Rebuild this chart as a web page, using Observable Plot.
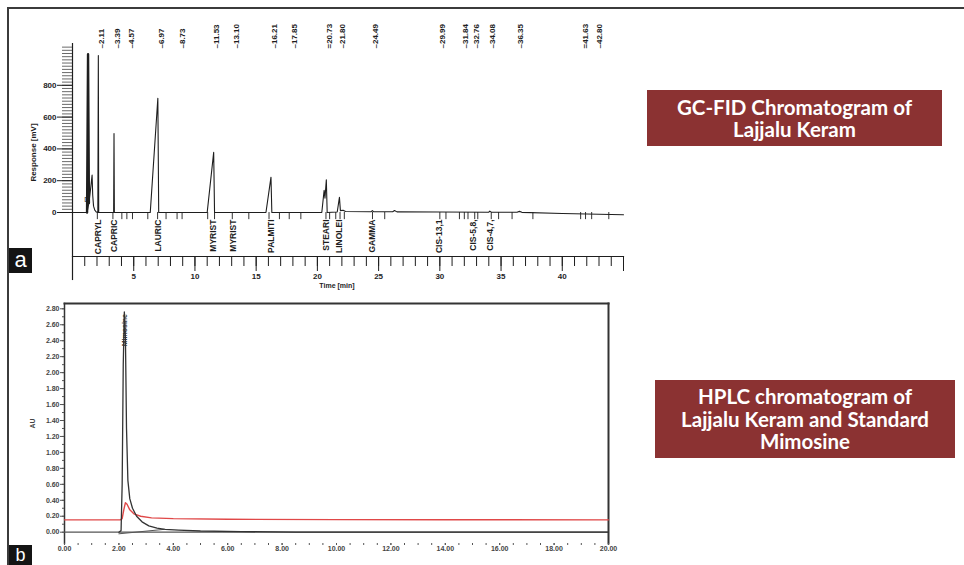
<!DOCTYPE html>
<html><head><meta charset="utf-8">
<script src="https://cdn.jsdelivr.net/npm/d3@7"></script>
<script src="https://cdn.jsdelivr.net/npm/@observablehq/plot@0.6"></script>
<style>
body{margin:0;background:#fff;}
#page{position:relative;width:964px;height:565px;overflow:hidden;background:#fff;font-family:"Liberation Sans",Arial,sans-serif;}
.bt{position:absolute;left:7px;top:7px;width:957px;height:2px;background:#3b3b3b;}
.bl{position:absolute;left:7px;top:7px;width:2px;height:558px;background:#3b3b3b;}
.panel{position:absolute;left:0;}
.panel svg{overflow:visible;}
.title{position:absolute;background:#8b3232;color:#fff;font-family:Lato,"Open Sans",sans-serif;font-weight:700;text-align:center;display:flex;flex-direction:column;justify-content:center;line-height:22.5px;font-size:20.5px;}
.tag{position:absolute;background:#141414;color:#fff;font-family:"Liberation Sans",Arial,sans-serif;font-size:22px;text-align:center;line-height:24px;}
</style></head>
<body>
<div id="page">
  <div class="bt"></div><div class="bl"></div>
  <div id="gc" class="panel" style="top:0"></div>
  <div id="hplc" class="panel" style="top:290px"></div>
  <div class="title" style="left:647px;top:90px;width:295px;height:56px;"><div>GC-FID Chromatogram of</div><div>Lajjalu Keram</div></div>
  <div class="title" style="left:655px;top:380px;width:300px;height:78px;"><div>HPLC chromatogram of</div><div>Lajjalu Keram and Standard</div><div>Mimosine</div></div>
  <div class="tag" style="left:9px;top:248px;width:23px;height:25px;">a</div>
  <div class="tag" style="left:9px;top:545px;width:23px;height:20px;font-size:18px;line-height:21px;">b</div>
</div>
<script>
// ---------- GC-FID data ----------
const gcTime = [0, 1.19, 1.34, 1.48, 1.60, 1.65, 1.72, 1.82, 1.95, 2.07, 2.11, 2.14, 3.36, 3.39, 3.42, 6.35, 6.97, 7.04, 11.0, 11.53, 11.60, 15.80, 16.21, 16.28, 20.36, 20.55, 20.62, 20.73, 20.80, 21.62, 21.80, 21.88, 22.1, 22.3, 24.40, 24.49, 24.58, 26.15, 26.30, 26.50, 30.0, 34.00, 34.08, 34.20, 36.30, 36.50, 36.70, 40.0, 45.0];
const gcResponse = [0, 0, 60, 150, 235, 110, 40, 15, 3, 0, 987, 0, 0, 497, 0, 0, 718, 0, 0, 378, 0, 0, 222, 0, 0, 140, 90, 205, 0, 3, 95, 12, 14, 6, 5, 12, 5, 5, 12, 4, 3, 2, 9, 2, 2, 7, 1, -6, -14];
const gcSolventTime = [1.19, 1.27, 1.34];
const gcSolventResponse = [0, 995, 60];
const gcRtTimes = [2.11, 3.39, 4.57, 6.97, 8.73, 11.53, 13.10, 16.21, 17.85, 20.73, 21.80, 24.49, 29.99, 31.84, 32.76, 34.08, 36.35, 41.63, 42.80];
const gcRtText = ["–2.11", "–3.39", "–4.57", "–6.97", "–8.73", "–11.53", "–13.10", "–16.21", "–17.85", "=20.73", "–21.80", "–24.49", "–29.99", "–31.84", "–32.76", "–34.08", "–36.35", "=41.63", "–42.80"];
const gcCompoundNames = ["CAPRYL", "CAPRIC", "LAURIC", "MYRIST", "MYRIST", "PALMITI", "STEARI", "LINOLEI", "GAMMA", "CIS-13,1", "CIS-5,8,", "CIS-4,7,"];
const gcCompoundTimes = [2.11, 3.39, 6.97, 11.53, 13.10, 16.21, 20.73, 21.80, 24.49, 29.99, 32.76, 34.08];
const gcEventTimes = [2.03, 3.30, 4.03, 4.44, 4.90, 6.15, 6.95, 7.64, 8.54, 8.95, 11.04, 11.60, 13.05, 14.40, 16.05, 16.90, 17.70, 18.65, 20.70, 21.00, 21.50, 21.85, 22.20, 24.50, 25.50, 30.00, 30.50, 31.60, 32.00, 32.30, 32.85, 33.10, 34.20, 34.80, 35.90, 37.60, 41.50, 41.90, 42.40, 43.80];
const gcTimeTicks = [5, 10, 15, 20, 25, 30, 35, 40, 45];
const gcTimeMinor = d3.range(1, 45, 1);
const gcRespTicks = [0, 200, 400, 600, 800];
const gcRespMinor = d3.range(0, 1041, 20);
const gcAxisSpan = [1063, -428];   // mV extent of the left axis line
const gcEventDepth = -45;          // mV depth of event marks

// ---------- HPLC data ----------
const hplcPeakTime = [2.00, 2.08, 2.12, 2.16, 2.20, 2.24, 2.28, 2.33, 2.40, 2.50, 2.65, 2.85, 3.10, 3.40, 3.70, 4.20, 5.00, 6.50, 8.50, 20.0];
const hplcPeakAU   = [0, 0.02, 0.6, 2.1, 2.76, 2.45, 1.3, 0.65, 0.42, 0.3, 0.2, 0.13, 0.08, 0.05, 0.035, 0.025, 0.015, 0.008, 0, 0];
const hplcStdTime = [0, 2.05, 2.12, 2.18, 2.24, 2.30, 2.40, 2.55, 2.80, 3.20, 4.00, 6.00, 10.0, 14.0, 20.0];
const hplcStdAU   = [0.155, 0.155, 0.17, 0.28, 0.37, 0.35, 0.28, 0.23, 0.2, 0.18, 0.17, 0.162, 0.158, 0.156, 0.155];
const hplcIntegTime = [2.0, 3.65];
const hplcIntegAU = [-0.02, 0.035];
const hplcXTicks = d3.range(0, 20.01, 2);
const hplcXMinor = d3.range(0, 20.01, 0.5);
const hplcYTicks = d3.range(0, 2.81, 0.2);
const hplcYMinor = d3.range(0, 2.81, 0.1);
const hplcPeakName = "Mimosine";

const zip = (xs, ys) => xs.map((x, i) => ({x, y: ys[i]}));
const ink = "#1e1e1e";

const gc = Plot.plot({
  width: 654, height: 292,
  marginLeft: 72, marginRight: 31, marginTop: 48, marginBottom: 36,
  style: {fontFamily: "'Liberation Sans', Arial, sans-serif", fontSize: "8px", color: ink, background: "transparent", overflow: "visible"},
  x: {domain: [0, 45]},
  y: {domain: [0, 1000], range: [212, 53]},
  marks: [
    Plot.ruleX([0], {y1: gcAxisSpan[0], y2: gcAxisSpan[1], stroke: ink, strokeWidth: 1.2}),
    Plot.frame({anchor: "bottom", stroke: ink, strokeWidth: 1.2}),
    Plot.axisY({ticks: gcRespMinor, tickSize: 10, tickFormat: () => "", label: null, stroke: "#444", strokeWidth: 0.8}),
    Plot.axisY({ticks: gcRespTicks, tickSize: 15, tickPadding: 1, fontSize: 8, fontWeight: "bold", label: "Response [mV]", labelArrow: "none", labelAnchor: "center", labelOffset: 42, stroke: ink}),
    Plot.axisX({ticks: gcTimeMinor, tickSize: 10, tickFormat: () => "", label: null, stroke: ink}),
    Plot.axisX({ticks: gcTimeTicks, tickSize: 15, tickPadding: 2, fontSize: 8, fontWeight: "bold", tickFormat: d => d % 45 === 0 ? "" : d, label: null, stroke: ink}),
    Plot.text(["Time [min]"], {x: 21.6, frameAnchor: "bottom", dy: 31, fontSize: 7, fontWeight: "bold"}),
    Plot.ruleX(gcEventTimes, {y1: 0, y2: gcEventDepth, stroke: "#333", strokeWidth: 1}),
    Plot.line(zip(gcTime, gcResponse), {x: "x", y: "y", stroke: ink, strokeWidth: 1.1}),
    Plot.line(zip(gcSolventTime, gcSolventResponse), {x: "x", y: "y", stroke: ink, strokeWidth: 2.4}),
    Plot.text([{x: 1.17, y: 82}], {x: "x", y: "y", text: () => "D", fontSize: 7}),
    Plot.text(gcRtTimes.map((t, i) => ({t, s: gcRtText[i]})), {x: "t", frameAnchor: "top", text: "s", rotate: -90, textAnchor: "start", fontSize: 8, fontWeight: "bold"}),
    Plot.text(gcCompoundTimes.map((t, i) => ({t, s: gcCompoundNames[i]})), {x: "t", y: 0, dy: 7, text: "s", rotate: -90, textAnchor: "end", fontSize: 8.5, fontWeight: "bold"})
  ]
});
document.getElementById("gc").appendChild(gc);

const hp = Plot.plot({
  width: 628, height: 275,
  marginLeft: 64, marginRight: 20, marginTop: 13, marginBottom: 22,
  style: {fontFamily: "'Liberation Sans', Arial, sans-serif", fontSize: "7px", color: "#444", background: "transparent", overflow: "visible"},
  x: {domain: [0, 20]},
  y: {domain: [0, 2.8], range: [241.7, 18.3]},
  marks: [
    Plot.frame({anchor: "top", stroke: "#333", strokeWidth: 2}),
    Plot.frame({anchor: "left", stroke: "#333", strokeWidth: 1.5}),
    Plot.frame({anchor: "right", stroke: "#333", strokeWidth: 2}),
    Plot.axisY({ticks: hplcYMinor, tickSize: 2, tickFormat: () => "", label: null, stroke: "#555"}),
    Plot.axisY({ticks: hplcYTicks, tickSize: 4, tickPadding: 1, tickFormat: d3.format(".2f"), fontSize: 7, fontWeight: "bold", label: "AU", labelArrow: "none", labelAnchor: "center", labelOffset: 34, stroke: "#555"}),
    Plot.axisX({ticks: hplcXMinor, tickSize: 2, tickFormat: () => "", label: null, stroke: "#555"}),
    Plot.axisX({ticks: hplcXTicks, tickSize: 2, tickPadding: 1, tickFormat: d3.format(".2f"), fontSize: 7, fontWeight: "bold", label: null, stroke: "#555"}),
    Plot.ruleY([0], {stroke: "#555", strokeWidth: 1.2}),
    Plot.line(zip(hplcStdTime, hplcStdAU), {x: "x", y: "y", stroke: "#e04848", strokeWidth: 1.4}),
    Plot.line(zip(hplcIntegTime, hplcIntegAU), {x: "x", y: "y", stroke: "#555", strokeWidth: 1}),
    Plot.line(zip(hplcPeakTime, hplcPeakAU), {x: "x", y: "y", stroke: "#333", strokeWidth: 1.3}),
    Plot.text([{x: 2.2, y: 2.76}], {x: "x", y: "y", text: () => hplcPeakName, rotate: -90, textAnchor: "end", fontSize: 7, fontWeight: "bold", fill: "#333", dy: 2})
  ]
});
document.getElementById("hplc").appendChild(hp);
</script>
</body></html>
